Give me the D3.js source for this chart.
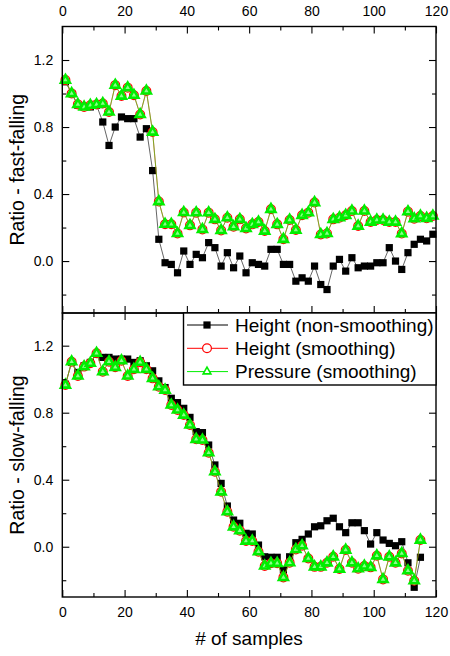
<!DOCTYPE html>
<html>
<head>
<meta charset="utf-8">
<script src="https://cdn.jsdelivr.net/npm/d3@7"></script>
<style>
body { margin: 0; background: #fff; }
svg { display: block; font-family: "Liberation Sans", Arial, sans-serif; }
</style>
</head>
<body>
<svg width="450" height="656"></svg>
<script>
// sample index (every other sample carries a marker)
var samplesFast = d3.range(1, 120, 2);
var samplesSlow = d3.range(1, 116, 2);

// fast-falling panel
var fastHeightRaw = [1.07, 1.00, 0.93, 0.92, 0.92, 0.93, 0.83, 0.69, 0.80, 0.86,
    0.85, 0.85, 0.74, 0.79, 0.54, 0.13, -0.01, -0.02, -0.07, 0.06,
    -0.02, 0.04, 0.02, 0.11, 0.08, -0.03, 0.05, -0.04, 0.03, -0.07,
    -0.01, -0.02, -0.03, 0.07, 0.07, -0.02, -0.02, -0.12, -0.10, -0.12,
    -0.03, -0.14, -0.17, -0.03, 0.01, -0.06, 0.02, -0.04, -0.03, -0.03,
    -0.01, -0.01, 0.08, 0.00, -0.05, 0.05, 0.10, 0.13, 0.12, 0.16];
var fastHeightSmooth = [1.08, 1.00, 0.935, 0.92, 0.93, 0.935, 0.94, 0.89, 1.05, 0.985,
    1.035, 0.99, 0.875, 1.015, 0.77, 0.355, 0.22, 0.22, 0.165, 0.29,
    0.213, 0.289, 0.189, 0.289, 0.249, 0.183, 0.259, 0.205, 0.249, 0.195,
    0.219, 0.233, 0.179, 0.309, 0.219, 0.13, 0.245, 0.185, 0.273, 0.289,
    0.349, 0.159, 0.165, 0.249, 0.259, 0.273, 0.299, 0.209, 0.299, 0.233,
    0.245, 0.245, 0.233, 0.233, 0.164, 0.295, 0.253, 0.269, 0.255, 0.269];
var fastPressureSmooth = [1.08, 1.00, 0.935, 0.92, 0.93, 0.935, 0.94, 0.89, 1.05, 0.985,
    1.035, 0.99, 0.875, 1.015, 0.77, 0.355, 0.22, 0.22, 0.165, 0.29,
    0.213, 0.289, 0.189, 0.289, 0.249, 0.183, 0.259, 0.205, 0.249, 0.195,
    0.219, 0.233, 0.179, 0.309, 0.219, 0.13, 0.245, 0.185, 0.273, 0.289,
    0.349, 0.159, 0.165, 0.249, 0.259, 0.273, 0.299, 0.209, 0.299, 0.233,
    0.245, 0.245, 0.233, 0.233, 0.164, 0.295, 0.253, 0.269, 0.255, 0.269];

// slow-falling panel
var slowHeightRaw = [0.97, 1.10, 1.04, 1.08, 1.10, 1.15, 1.13, 1.13, 1.12, 1.12,
    1.12, 1.10, 1.11, 1.08, 1.05, 0.99, 0.95, 0.886, 0.86, 0.826,
    0.772, 0.687, 0.681, 0.607, 0.488, 0.378, 0.243, 0.159, 0.14, 0.08,
    0.076, 0.01, -0.06, -0.063, -0.063, -0.139, -0.06, 0.024, 0.044, 0.076,
    0.119, 0.125, 0.155, 0.17, 0.119, 0.084, 0.143, 0.143, 0.096, 0.016,
    0.084, 0.04, 0.02, 0.006, 0.03, -0.096, -0.242, -0.063];
var slowHeightSmooth = [0.965, 1.104, 1.019, 1.075, 1.095, 1.155, 1.045, 1.104, 1.071, 1.11,
    1.019, 1.059, 1.101, 1.059, 1.005, 0.955, 0.935, 0.846, 0.816, 0.786,
    0.727, 0.641, 0.637, 0.561, 0.448, 0.328, 0.209, 0.119, 0.096, 0.034,
    0.034, -0.03, -0.115, -0.099, -0.099, -0.183, -0.095, -0.016, 0.006, -0.07,
    -0.12, -0.12, -0.096, -0.06, -0.133, -0.02, -0.096, -0.131, -0.115, -0.123,
    -0.054, -0.195, -0.06, -0.096, -0.04, -0.143, -0.203, 0.04];
var slowPressureSmooth = [0.965, 1.104, 1.019, 1.075, 1.095, 1.155, 1.045, 1.104, 1.071, 1.11,
    1.019, 1.059, 1.101, 1.059, 1.005, 0.955, 0.935, 0.846, 0.816, 0.786,
    0.727, 0.641, 0.637, 0.561, 0.448, 0.328, 0.209, 0.119, 0.096, 0.034,
    0.034, -0.03, -0.115, -0.099, -0.099, -0.183, -0.095, -0.016, 0.006, -0.07,
    -0.12, -0.12, -0.096, -0.06, -0.133, -0.02, -0.096, -0.131, -0.115, -0.123,
    -0.054, -0.195, -0.06, -0.096, -0.04, -0.143, -0.203, 0.04];

var seriesNames = ["Height (non-smoothing)", "Height (smoothing)", "Pressure (smoothing)"];
var xTicks = [0, 20, 40, 60, 80, 100, 120];
var xMinor = [10, 30, 50, 70, 90, 110];
var yTicks = [0, 0.4, 0.8, 1.2];
var yMinor = [-0.2, 0.2, 0.6, 1.0];

var svg = d3.select("svg");
var left = 62.3, right = 436;
var colors = ["#000", "#ff0000", "#00ee00"];
var lineColors = ["#222", "#ff3030", "#44bb00"];

var x = d3.scaleLinear().domain([0, 120]).range([left, right]);

var panels = [
    { title: "Ratio - fast-falling", top: 26.5, bottom: 313, domain: [-0.31, 1.40],
      samples: samplesFast, data: [fastHeightRaw, fastHeightSmooth, fastPressureSmooth],
      topLabels: true, bottomLabels: false },
    { title: "Ratio - slow-falling", top: 313, bottom: 597, domain: [-0.30, 1.395],
      samples: samplesSlow, data: [slowHeightRaw, slowHeightSmooth, slowPressureSmooth],
      topLabels: false, bottomLabels: true }
];

function drawMarker(sel, k, small) {
    if (k == 0) {
        sel.append("rect")
            .attr("x", -3.6).attr("y", -3.6)
            .attr("width", 7.2).attr("height", 7.2)
            .attr("fill", "#000");
    } else if (k == 1) {
        sel.append("circle")
            .attr("r", 4.4)
            .attr("fill", "#fff")
            .attr("stroke", colors[1])
            .attr("stroke-width", 1.2);
    } else {
        sel.append("path")
            .attr("d", d3.symbol(d3.symbolTriangle, small ? 26 : 34)())
            .attr("fill", small ? "#fff" : "#8cff8c")
            .attr("stroke", colors[2])
            .attr("stroke-width", small ? 1.6 : 2.6);
    }
}

function styleAxis(g) {
    g.select(".domain").remove();
    g.selectAll("line").attr("stroke", "#000").attr("stroke-width", 1.1);
    g.selectAll("text").attr("fill", "#000").style("font-size", "14px")
        .style("font-family", "'Liberation Sans', Arial, sans-serif");
}

panels.forEach(function(p) {
    var y = d3.scaleLinear().domain(p.domain).range([p.bottom, p.top]);
    var g = svg.append("g");

    // series: lines then markers
    p.data.forEach(function(vals, k) {
        var pts = vals.map(function(v, i) { return [p.samples[i], v]; });
        g.append("path")
            .datum(pts)
            .attr("fill", "none")
            .attr("stroke", lineColors[k])
            .attr("stroke-width", 0.7)
            .attr("d", d3.line().x(function(d) { return x(d[0]); }).y(function(d) { return y(d[1]); }));
        g.selectAll(".m" + k)
            .data(pts)
            .enter().append("g")
            .attr("class", "m" + k)
            .attr("transform", function(d) { return "translate(" + x(d[0]) + "," + y(d[1]) + ")"; })
            .each(function() { drawMarker(d3.select(this), k, false); });
    });

    // axes, ticks inward
    styleAxis(g.append("g").attr("transform", "translate(0," + p.bottom + ")")
        .call(d3.axisBottom(x).tickValues(xTicks).tickSize(-7).tickPadding(10)
            .tickFormat(p.bottomLabels ? d3.format("d") : "")));
    styleAxis(g.append("g").attr("transform", "translate(0," + p.bottom + ")")
        .call(d3.axisBottom(x).tickValues(xMinor).tickSize(-4).tickFormat("")));
    styleAxis(g.append("g").attr("transform", "translate(0," + p.top + ")")
        .call(d3.axisTop(x).tickValues(xTicks).tickSize(-7).tickPadding(11)
            .tickFormat(p.topLabels ? d3.format("d") : "")));
    styleAxis(g.append("g").attr("transform", "translate(0," + p.top + ")")
        .call(d3.axisTop(x).tickValues(xMinor).tickSize(-4).tickFormat("")));

    styleAxis(g.append("g").attr("transform", "translate(" + left + ",0)")
        .call(d3.axisLeft(y).tickValues(yTicks).tickSize(-7).tickPadding(9).tickFormat(d3.format(".1f"))));
    styleAxis(g.append("g").attr("transform", "translate(" + left + ",0)")
        .call(d3.axisLeft(y).tickValues(yMinor).tickSize(-4).tickFormat("")));
    styleAxis(g.append("g").attr("transform", "translate(" + right + ",0)")
        .call(d3.axisRight(y).tickValues(yTicks).tickSize(-7).tickFormat("")));
    styleAxis(g.append("g").attr("transform", "translate(" + right + ",0)")
        .call(d3.axisRight(y).tickValues(yMinor).tickSize(-4).tickFormat("")));

    g.append("rect")
        .attr("x", left).attr("y", p.top)
        .attr("width", right - left).attr("height", p.bottom - p.top)
        .attr("fill", "none")
        .attr("stroke", "#000")
        .attr("stroke-width", 1.4);

    g.append("text")
        .attr("transform", "translate(24," + ((p.top + p.bottom) / 2) + ") rotate(-90)")
        .attr("text-anchor", "middle")
        .style("font-size", "19.5px")
        .text(p.title);
});

// x title
svg.append("text")
    .attr("x", 249).attr("y", 645)
    .attr("text-anchor", "middle")
    .style("font-size", "19px")
    .text("# of samples");

// legend
var lg = svg.append("g");
lg.append("rect")
    .attr("x", 183.5).attr("y", 313)
    .attr("width", right - 183.5).attr("height", 72)
    .attr("fill", "#fff")
    .attr("stroke", "#000")
    .attr("stroke-width", 1.4);
seriesNames.forEach(function(name, k) {
    var ly = 325 + k * 23.3;
    lg.append("line")
        .attr("x1", 187).attr("x2", 228)
        .attr("y1", ly).attr("y2", ly)
        .attr("stroke", colors[k])
        .attr("stroke-width", 1);
    var m = lg.append("g").attr("transform", "translate(207," + ly + ")");
    drawMarker(m, k, true);
    lg.append("text")
        .attr("x", 235).attr("y", ly + 6.5)
        .style("font-size", "19px")
        .text(name);
});
</script>
</body>
</html>
